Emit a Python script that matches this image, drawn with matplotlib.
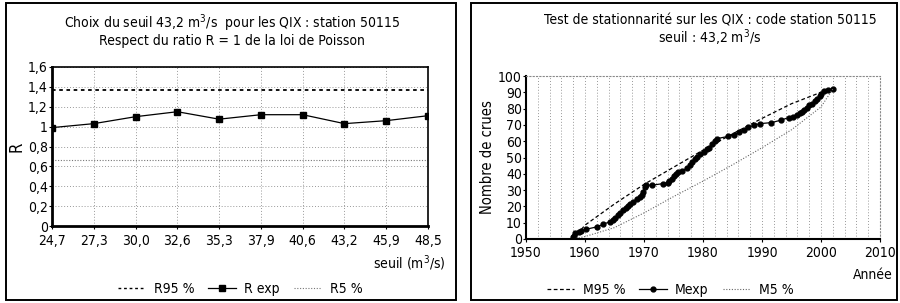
import matplotlib.pyplot as plt
from matplotlib.patches import Rectangle
from matplotlib.lines import Line2D

plt.rcParams['font.family'] = ['DejaVu Sans']
plt.rcParams['font.stretch'] = 'condensed'

# --- left chart data : ratio R against threshold
seuils = ['24,7', '27,3', '30,0', '32,6', '35,3', '37,9', '40,6', '43,2', '45,9', '48,5']
r_exp = [0.99, 1.03, 1.10, 1.15, 1.075, 1.12, 1.12, 1.03, 1.06, 1.11]
r95 = 1.37
r5 = 0.66

# --- right chart data : cumulative number of floods
annees = [1957.9, 1958.0, 1958.1, 1958.3, 1959.0, 1959.4, 1960.2, 1962.1, 1963.0, 1964.2,
          1964.8, 1965.1, 1965.6, 1966.0, 1966.5, 1966.9, 1967.3, 1967.7, 1968.2, 1968.8,
          1969.3, 1969.6, 1969.9, 1970.1, 1970.3, 1971.3, 1973.3, 1974.0, 1974.3, 1974.7,
          1975.0, 1975.5, 1975.8, 1976.5, 1977.3, 1977.8, 1978.1, 1978.6, 1979.0, 1979.5,
          1980.1, 1980.6, 1981.0, 1981.5, 1982.0, 1982.3, 1984.3, 1985.3, 1986.1, 1987.0,
          1987.7, 1988.6, 1989.7, 1991.6, 1993.3, 1994.5, 1995.2, 1995.9, 1996.4, 1996.8,
          1997.2, 1997.6, 1998.0, 1998.5, 1999.0, 1999.4, 1999.8, 2000.0, 2000.5, 2001.2,
          2002.1]
m_exp = [0, 1, 2, 3.5, 4, 5, 6, 7.5, 9, 10.5,
         11.5, 13, 14.5, 16, 17.5, 19, 20, 21.5, 23, 24.5,
         26, 27, 29, 32, 33, 33, 34, 34.5, 35.5, 37,
         38.5, 40, 41, 42, 43.5, 45.5, 47.5, 49, 50.5, 52,
         53.5, 55, 56, 58, 60, 61.5, 63, 64, 65.5, 67,
         68.5, 69.8, 70.8, 71.4, 73, 74.5, 75, 76, 77, 78,
         79.3, 80.6, 82, 83, 84.5, 86, 87.5, 89, 91, 91.5,
         92]
annees_bornes = [1958, 1960, 1965, 1970, 1975, 1980, 1985, 1990, 1995, 2000, 2002]
m95 = [0, 8.5, 21.5, 33.5, 44, 54.5, 64.5, 74, 83, 90, 92]
m5 = [0, 1.5, 7, 16, 26, 35.5, 45.5, 56, 67, 81, 92]

fig = plt.figure(figsize=(9, 3.03), dpi=100)

# panel frames
for x0, x1 in [(6, 456), (471, 897)]:
    fig.patches.append(Rectangle((x0 / 900, 3 / 303), (x1 - x0) / 900, 297 / 303,
                                 transform=fig.transFigure, fill=False,
                                 edgecolor='black', linewidth=1.4))

fs = 10

# ---------------- left chart
ax1 = fig.add_axes([52 / 900, 1 - 226 / 303, (428 - 52) / 900, (226 - 67) / 303])
x = list(range(len(seuils)))
ax1.plot(x, [r95] * len(x), color='black', linestyle=(0, (2, 2)), linewidth=1.3)
ax1.plot(x, r_exp, color='black', marker='s', markersize=4, linewidth=0.9)
ax1.plot(x, [r5] * len(x), color='#777777', linestyle=(0, (1, 1.5)), linewidth=0.8)
ax1.set_xlim(0, 9)
ax1.set_ylim(0, 1.6)
ax1.set_xticks(x)
ax1.set_xticklabels(seuils, fontsize=fs)
ax1.set_yticks([0, 0.2, 0.4, 0.6, 0.8, 1.0, 1.2, 1.4, 1.6])
ax1.set_yticklabels(['0', '0,2', '0,4', '0,6', '0,8', '1', '1,2', '1,4', '1,6'], fontsize=fs)
ax1.tick_params(length=2, pad=1)
ax1.tick_params(axis='x', pad=4)
ax1.grid(True, color='#999999', linestyle=(0, (1, 2)), linewidth=0.7)
for s in ax1.spines.values():
    s.set_linewidth(1.2)
ax1.spines['left'].set_linewidth(2)
ax1.spines['bottom'].set_linewidth(2)
ax1.set_ylabel('R', fontsize=12, labelpad=2)
fig.text(232 / 900, 1 - 23 / 303, 'Choix du seuil 43,2 m$^3$/s  pour les QIX : station 50115',
         ha='center', va='center', fontsize=fs)
fig.text(232 / 900, 1 - 41 / 303, 'Respect du ratio R = 1 de la loi de Poisson',
         ha='center', va='center', fontsize=fs)
fig.text(446 / 900, 1 - 263 / 303, 'seuil (m$^3$/s)', ha='right', va='center', fontsize=fs)
h1 = [Line2D([], [], color='black', linestyle=(0, (2, 2)), linewidth=1),
      Line2D([], [], color='black', marker='s', markersize=4, linewidth=0.9),
      Line2D([], [], color='#777777', linestyle=(0, (1, 1.5)), linewidth=0.8)]
fig.legend(h1, ['R95 %', 'R exp', 'R5 %'], loc='center', bbox_to_anchor=(240 / 900, 1 - 289 / 303),
           ncol=3, frameon=False, fontsize=fs, handlelength=2.0, columnspacing=1.0,
           handletextpad=0.6)

# ---------------- right chart
ax2 = fig.add_axes([526 / 900, 1 - 239 / 303, (880 - 526) / 900, (239 - 76) / 303])
ax2.plot(annees_bornes, m95, color='black', linestyle=(0, (3, 2)), linewidth=0.9)
ax2.plot(annees, m_exp, color='black', marker='o', markersize=3.5, linewidth=0.9)
ax2.plot(annees_bornes, m5, color='#666666', linestyle=(0, (1, 1.5)), linewidth=0.8)
ax2.set_xlim(1950, 2010)
ax2.set_ylim(0, 100)
ax2.set_xticks(range(1950, 2011, 10))
ax2.set_xticks(range(1952, 2010, 2), minor=True)
ax2.set_yticks(range(0, 101, 10))
ax2.tick_params(labelsize=fs, length=2, pad=1)
ax2.tick_params(axis='x', pad=3)
ax2.tick_params(which='minor', length=0)
ax2.grid(True, axis='x', which='both', color='#999999', linestyle=(0, (1, 2)), linewidth=0.7)
ax2.spines['left'].set_linewidth(1.5)
ax2.spines['bottom'].set_linewidth(1.5)
ax2.spines['top'].set_linestyle((0, (1, 2)))
ax2.spines['top'].set_color('#888888')
ax2.spines['right'].set_linestyle((0, (1, 2)))
ax2.spines['right'].set_color('#888888')
ax2.set_ylabel('Nombre de crues', fontsize=fs + 0.5, labelpad=2)
fig.text(710 / 900, 1 - 21 / 303, 'Test de stationnarité sur les QIX : code station 50115',
         ha='center', va='center', fontsize=fs)
fig.text(710 / 900, 1 - 38 / 303, 'seuil : 43,2 m$^3$/s', ha='center', va='center', fontsize=fs)
fig.text(893 / 900, 1 - 275 / 303, 'Année', ha='right', va='center', fontsize=fs)
h2 = [Line2D([], [], color='black', linestyle=(0, (3, 2)), linewidth=0.9),
      Line2D([], [], color='black', marker='o', markersize=3.5, linewidth=0.9),
      Line2D([], [], color='#666666', linestyle=(0, (1, 1.5)), linewidth=0.8)]
fig.legend(h2, ['M95 %', 'Mexp', 'M5 %'], loc='center', bbox_to_anchor=(670 / 900, 1 - 290 / 303),
           ncol=3, frameon=False, fontsize=fs, handlelength=2.0, columnspacing=1.0,
           handletextpad=0.6)

fig.savefig('out.png', dpi=100)
